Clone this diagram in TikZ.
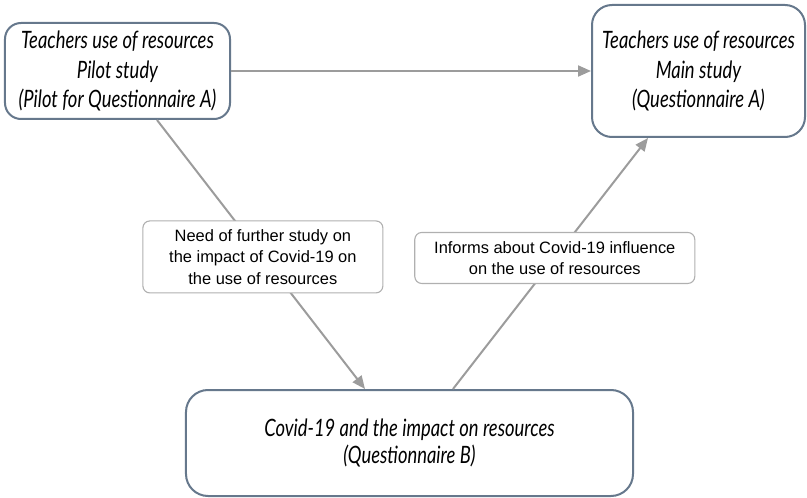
\documentclass[tikz,border=0pt]{standalone}
\usepackage{fontspec}
\setmainfont{Liberation Sans}
\newfontfamily\condit{Lato}[FakeStretch=0.77]
\usetikzlibrary{arrows.meta}

\definecolor{boxline}{HTML}{66788C}
\definecolor{arrline}{HTML}{9C9C9C}
\definecolor{lblline}{HTML}{B0B0B0}

\tikzset{
    studybox/.style={draw=boxline, line width=2bp, rounded corners=16bp, fill=white,
        inner sep=0pt, align=center,
        font=\condit\itshape\fontsize{24}{30}\selectfont},
    notebox/.style={draw=lblline, line width=1.1bp, rounded corners=7bp, fill=white,
        inner sep=0pt, align=center,
        font=\fontsize{16.5}{21.4}\selectfont},
    arr/.style={draw=arrline, line width=2bp, -{Triangle[length=13bp, width=11bp]}},
}

\begin{document}
\begin{tikzpicture}[x=1bp, y=-1bp]

\useasboundingbox (0,0) rectangle (807,498);

%% === studi ===
\node[studybox, minimum width=225bp, minimum height=96bp] (pilot) at (117.5,71)
    {Teachers use of resources\\Pilot study\\(Pilot for Questionnaire A)};
\node[studybox, minimum width=213bp, minimum height=132bp, rounded corners=20bp] (main) at (698.5,71)
    {Teachers use of resources\\Main study\\(Questionnaire A)};
\node[studybox, minimum width=447bp, minimum height=106bp, rounded corners=22bp,
      font=\condit\itshape\fontsize{24}{28}\selectfont] (covid) at (409.5,443)
    {Covid-19 and the impact on resources\\(Questionnaire B)};

%% === collegamenti ===
\draw[arr] (pilot) -- (main);

\draw[arr] ([xshift=39.5bp]pilot.south) --
    node[notebox, pos=0.509, minimum width=240bp, minimum height=72bp] (need)
    {Need of further study on\\the impact of Covid-19 on\\the use of resources}
    ([xshift=-44.5bp]covid.north);

\draw[arr] ([xshift=43.5bp]covid.north) --
    node[notebox, pos=0.522, minimum width=280bp, minimum height=51bp] (informs)
    {Informs about Covid-19 influence\\on the use of resources}
    ([xshift=-50.5bp]main.south);

\end{tikzpicture}
\end{document}
